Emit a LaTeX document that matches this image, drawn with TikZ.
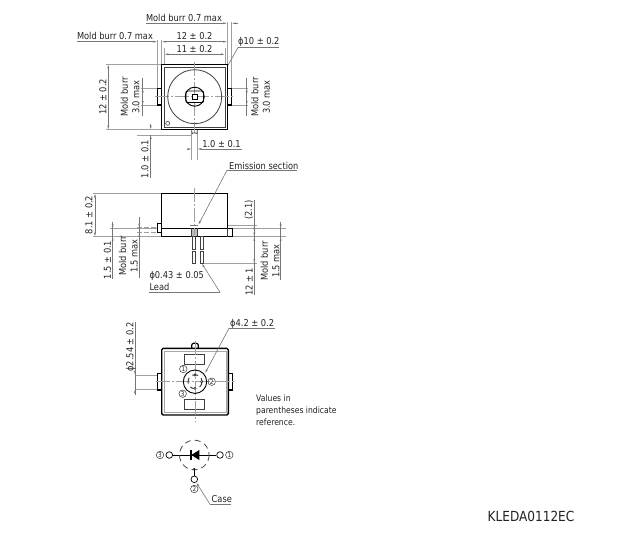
\documentclass[tikz,border=0pt]{standalone}
\usepackage{fontspec}
\setmainfont[FakeStretch=0.87]{DejaVu Sans}
\usetikzlibrary{arrows.meta}
\definecolor{dimc}{HTML}{777777}
\definecolor{txtc}{HTML}{222222}
\tikzset{
 x=1pt,y=-1pt,
 body/.style={draw=black,line width=1.4pt,line join=miter,fill=white},
 thin body/.style={draw=black!75,line width=.8pt},
 dimline/.style={draw=dimc,line width=.6pt},
 ext/.style={draw=dimc!70,line width=.6pt},
 centerl/.style={draw=dimc!70,line width=.6pt,dash pattern=on 14pt off 2pt on 2pt off 2pt},
 dashl/.style={draw=dimc!70,line width=.6pt,dash pattern=on 5pt off 2pt},
 tip/.style={-{Latex[length=4pt,width=2pt]}},
 bothtips/.style={{Latex[length=4pt,width=2pt]}-{Latex[length=4pt,width=2pt]}},
 lab/.style={inner sep=0pt,text=txtc,font=\fontsize{9.5}{11.5}\selectfont},
 rlab/.style={lab,rotate=90,align=center},
 clab/.style={circle,draw=black!80,line width=.5pt,inner sep=0pt,minimum size=7.5pt,text=txtc,font=\fontsize{6.5}{7}\selectfont},
 term/.style={circle,draw=black,line width=.7pt,fill=white,inner sep=0pt,minimum size=6.6pt},
}
\begin{document}
\begin{tikzpicture}
\useasboundingbox (0,0) rectangle (631,554);
\fill[white] (0,0) rectangle (631,554);

%% ---------- top view ----------
% extension lines
\draw[ext] (227.3,22) -- (227.3,64) (231.7,22) -- (231.7,88.3);
\draw[ext] (157.3,40) -- (157.3,88.3) (161.7,40) -- (161.7,64);
\draw[ext] (164.3,48) -- (164.3,67) (225,48) -- (225,67);
\draw[ext] (106,64.3) -- (161.7,64.3) (106,129.7) -- (161.7,129.7);
\draw[ext] (141,88.3) -- (157.3,88.3) (141,105) -- (157.3,105);
\draw[ext] (232,88.3) -- (248,88.3) (232,105) -- (248,105);
\draw[ext] (137,135) -- (191.7,135);
\draw[ext] (191.7,135) -- (191.7,160) (197.3,135) -- (197.3,160);
% dimension lines
\draw[dimline] (146,23.3) -- (222,23.3);
\draw[dimline,tip] (222,23.3) -- (227.3,23.3);
\draw[dimline,tip] (237,23.3) -- (231.7,23.3);
\draw[dimline] (237,23.3) -- (238,23.3);
\draw[dimline] (77,41.7) -- (152,41.7);
\draw[dimline,tip] (152,41.7) -- (157.3,41.7);
\draw[dimline,bothtips] (161.7,41.7) -- (227.3,41.7);
\draw[dimline,bothtips] (164.3,54.3) -- (225,54.3);
\draw[dimline,bothtips] (108.3,64.3) -- (108.3,129.7);
\draw[dimline] (142.7,78) -- (142.7,116);
\draw[dimline,bothtips] (142.7,88.3) -- (142.7,105);
\draw[dimline] (246.7,78) -- (246.7,116);
\draw[dimline,bothtips] (246.7,88.3) -- (246.7,105);
\draw[dimline] (150.7,178) -- (150.7,135);
\draw[dimline,tip] (150.7,140) -- (150.7,135);
\draw[dimline,tip] (150.7,124) -- (150.7,129.7);
\draw[dimline] (202,149) -- (241.7,149);
\draw[dimline,tip] (186.7,149) -- (191.7,149);
\draw[dimline,tip] (202,149) -- (197.3,149);
\draw[dimline] (279,47.5) -- (238,47.5);
\draw[dimline,tip] (238,47.5) -- (218,83);
% package
\draw[body] (157.3,88.3) rectangle (162,105);
\draw[body] (227,88.3) rectangle (231.7,105);
\draw[thin body,fill=white] (191.7,129.7) -- (191.7,134) arc[start angle=180,end angle=0,radius=2.8,y radius=-1.2] -- (197.3,129.7);
\draw[body] (161.7,64.3) rectangle (227.3,129.7);
\draw[thin body,line width=.6pt] (164.3,67) rectangle (225,127);
\draw[centerl] (194.7,62) -- (194.7,132);
\draw[centerl] (155,96.7) -- (234,96.7);
\draw[thin body] (194.7,96.7) circle[radius=27];
\draw[body,line width=.9pt,fill=none] (194.7,96.7) circle[radius=9.5];
\draw[body,line width=.9pt,fill=none,rounded corners=1pt] (186,91) rectangle (203.5,102.5);
\draw[body,line width=.8pt] (192.3,94.4) rectangle (197,99);
\draw[thin body,line width=.6pt] (167.7,123.3) circle[radius=2];
% texts
\node[lab] (tburra) at (184,18) {Mold burr 0.7 max};
\node[lab] (tburrb) at (115,36) {Mold burr 0.7 max};
\node[lab] (twidth) at (194.5,36) {12 ± 0.2};
\node[lab] (tinner) at (194.5,49) {11 ± 0.2};
\node[lab,anchor=west] (tphi) at (238,42) {ϕ10 ± 0.2};
\node[rlab] (theight) at (103,97) {12 ± 0.2};
\node[rlab] (tbl) at (130,97) {Mold burr\\3.0 max};
\node[rlab] (tbr) at (260.5,97) {Mold burr\\3.0 max};
\node[rlab] (tpin) at (145,159) {1.0 ± 0.1};
\node[lab] (tpinw) at (221.5,144) {1.0 ± 0.1};

%% ---------- side view ----------
\draw[ext] (93,193.3) -- (161.7,193.3);
\draw[ext] (93,236.7) -- (161.7,236.7);
\draw[ext] (110,228.3) -- (161.7,228.3);
\draw[ext] (232.3,228.3) -- (286,228.3) (232.3,236.7) -- (286,236.7);
\draw[ext] (198.3,225) -- (257,225);
\draw[ext] (203,263.3) -- (257,263.3);
\draw[dashl] (137,227.7) -- (157.3,227.7) (137,232.7) -- (157.3,232.7);
\draw[dimline,bothtips] (95,193.3) -- (95,236.7);
\draw[dimline] (112.7,222) -- (112.7,279);
\draw[dimline,tip] (112.7,222.5) -- (112.7,228.3);
\draw[dimline,tip] (112.7,242) -- (112.7,236.7);
\draw[dimline] (139.3,217) -- (139.3,278);
\draw[dimline,tip] (139.3,222) -- (139.3,227.7);
\draw[dimline,tip] (139.3,238) -- (139.3,232.7);
\draw[dimline] (254.3,200) -- (254.3,295);
\draw[dimline,bothtips] (254.3,225) -- (254.3,236.7);
\draw[dimline,bothtips] (254.3,236.7) -- (254.3,263.3);
\draw[dimline] (280.7,222) -- (280.7,280);
\draw[dimline,tip] (280.7,222.5) -- (280.7,228.3);
\draw[dimline,tip] (280.7,242) -- (280.7,236.7);
% package
\draw[body] (157.5,223.3) rectangle (161.7,232.7);
\draw[body] (161.7,193.3) rectangle (227.3,228.3);
\draw[body] (161.7,228.3) rectangle (232.3,236.7);
\draw[thin body,line width=1pt] (227.3,228.3) -- (227.3,236.7);
\fill[black!25] (191.7,229) rectangle (197.3,236);
\draw[thin body] (191.7,228.3) -- (191.7,236.7) (197.3,228.3) -- (197.3,236.7);
\draw[centerl] (194.7,188) -- (194.7,235);
\draw[draw=dimc,line width=1pt] (190,225) -- (198.3,225);
\draw[thin body,fill=white] (192.7,236.7) rectangle (195.7,249);
\draw[thin body,fill=white] (192.7,251) rectangle (195.7,263.3);
\draw[thin body,fill=white] (200,236.7) rectangle (203,249);
\draw[thin body,fill=white] (200,251) rectangle (203,263.3);
% leaders
\draw[dimline] (297,170.3) -- (227,170.3);
\draw[dimline,tip] (227,170.3) -- (198.3,225);
\draw[dimline] (148.5,292.3) -- (220,292.3);
\draw[dimline,tip] (220,292.3) -- (201.7,263.3);
% texts
\node[lab,anchor=west] (temit) at (229,165.5) {Emission section};
\node[rlab] (tdepth) at (89,215) {8.1 ± 0.2};
\node[rlab] (tbase) at (107.3,260) {1.5 ± 0.1};
\node[rlab] (tbs) at (128.3,256) {Mold burr\\1.5 max};
\node[rlab] (tref) at (249,210) {(2.1)};
\node[rlab] (tlead) at (249,282) {12 ± 1};
\node[rlab] (tbs2) at (270,261) {Mold burr\\1.5 max};
\node[lab,anchor=west] (tpd) at (149.3,275.7) {ϕ0.43 ± 0.05};
\node[lab,anchor=west] (tld) at (149.3,287.3) {Lead};

%% ---------- bottom view ----------
\draw[ext] (135,375) -- (195,375) (135,389) -- (195,389);
\draw[dimline] (135,322) -- (135,395);
\draw[dimline,tip] (135,369) -- (135,375);
\draw[dimline,tip] (135,395) -- (135,389);
% package
\draw[body] (157.7,373.3) rectangle (161.7,390);
\draw[body] (228.3,373.3) rectangle (232.3,390);
\draw[draw=black,line width=1.2pt,fill=white,rounded corners=2pt] (191.7,348.3) -- (191.7,343.3) -- (198.3,343.3) -- (198.3,348.3);
\draw[body,rounded corners=1.5pt] (161.7,348.3) rectangle (228.3,415);
\draw[draw=black!35,line width=.5pt] (164,351) rectangle (225.8,412.5);
\draw[thin body] (184.7,354.3) rectangle (204.3,364);
\draw[thin body] (184.7,399.7) rectangle (204.3,409.7);
\draw[centerl] (195,341) -- (195,422);
\draw[centerl] (155.7,381.7) -- (234,381.7);
\draw[draw=black,line width=.9pt] (195,381.7) circle[radius=11.7];
\draw[draw=black!80,line width=.9pt,dash pattern=on 6pt off 4pt] (195,381.7) circle[radius=7];
\draw[draw=black!80,line width=.6pt,fill=white] (195,375) circle[radius=1.1] (195,388.4) circle[radius=1.1] (201.7,381.7) circle[radius=1.1];
\draw[dimline] (229,328.3) -- (275,328.3);
\draw[dimline,tip] (229,328.3) -- (205,373.3);
\node[rlab] (tpitch) at (130.7,347) {ϕ2.54 ± 0.2};
\node[lab,anchor=west] (tphb) at (230,324) {ϕ4.2 ± 0.2};
\node[clab] (cone) at (183.3,369) {1};
\node[clab] (ctwo) at (211.7,381.7) {2};
\node[clab] (cthree) at (182.7,393.7) {3};
\node[lab,anchor=north west,align=left,font=\fontsize{8.8}{11.7}\selectfont] (tnote) at (256,395) {Values in\\parentheses indicate\\reference.};

%% ---------- schematic ----------
\node[term] (tl) at (169.3,455) {};
\node[term] (tr) at (220,455) {};
\node[term] (tb) at (194.3,479.3) {};
\coordinate (dot) at (194.3,469.3);
\draw[draw=black,line width=.8pt] (tl) -- (tr);
\draw[draw=black,line width=.8pt] (dot) -- (tb);
\fill[black] (dot) circle[radius=1.4];
\draw[draw=black!70,line width=.8pt,dash pattern=on 6pt off 4pt] (194.3,455) circle[radius=14.8];
\fill[black] (191.3,455) -- (199.3,450) -- (199.3,460) -- cycle;
\draw[draw=black,line width=1.2pt] (191,450) -- (191,460);
\node[clab] (sthree) at (160,455) {3};
\node[clab] (sone) at (229.3,455) {1};
\node[clab] (stwo) at (194.3,489) {2};
\draw[dimline] (231,504.3) -- (210,504.3);
\draw[dimline,tip] (210,504.3) -- (tb);
\node[lab,anchor=west] (tcase) at (211.5,499) {Case};

\node[inner sep=0pt,text=txtc,font=\fontsize{13.9}{15}\selectfont] (tcode) at (531,516) {KLEDA0112EC};
\end{tikzpicture}
\end{document}
